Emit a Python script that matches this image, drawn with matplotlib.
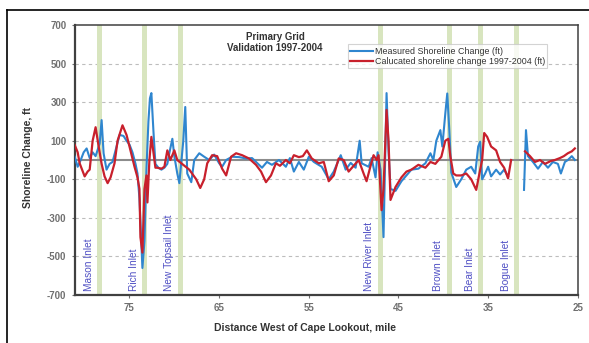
#!/usr/bin/env python3

import numpy as np
import matplotlib
matplotlib.use("Agg")
import matplotlib.pyplot as plt
from matplotlib.lines import Line2D

plt.rcParams['font.family'] = ['Liberation Sans', 'DejaVu Sans']
plt.rcParams['axes.unicode_minus'] = False

# measured shoreline change, miles west of Cape Lookout vs ft (nan = no data)
meas_mile = [81.11, 80.78, 80.44, 80.11, 79.78, 79.44, 79.11, 78.78, 78.33, 78.11,
             77.89, 77.56, 77.22, 76.89, 76.44, 76.11, 75.67, 75.33, 75.00, 74.67,
             74.33, 74.11, 73.89, 73.56, 73.33, 73.11, 72.89, 72.72, 72.56, 72.33,
             72.11, 71.78, 71.44, 71.11, 70.78, 70.56, 70.22, 70.00, 69.67, 69.44,
             69.22, 69.00, 68.78, 68.56, 68.11, 67.78, 67.22, 66.67, 66.11, 65.56,
             65.00, 64.67, 64.22, 63.56, 62.78, 62.00, 61.33, 60.56, 60.22, 59.67,
             59.11, 58.33, 57.56, 57.11, 56.67, 56.11, 55.56, 55.00, 54.44, 53.56,
             52.78, 52.22, 51.44, 50.89, 50.33, 49.78, 49.33, 49.11, 48.33, 48.00,
             47.56, 47.33, 47.00, 46.67, 46.44, 46.33, 46.11, 45.89, 45.33, 44.67,
             44.11, 43.56, 42.78, 42.00, 41.44, 41.11, 40.78, 40.33, 40.11, 39.78,
             39.56, 39.33, 39.11, 38.56, 38.00, 37.44, 36.89, 36.44, 36.11, 35.89,
             35.67, 35.33, 35.00, 34.67, 34.11, 33.67, 33.22, 32.78, 32.56, 31.00,
             30.78, 30.56, 30.00, 29.44, 28.89, 28.33, 27.78, 27.22, 26.89, 26.44,
             26.11, 25.67, 25.33]
meas_val = [17, -35, 0, 40, 60, 10, 40, 20, 85, 207,
            35, -50, -20, -10, 70, 130, 125, 100, 80, 40,
            -20, -70, -200, -560, -420, -50, 200, 320, 347, 150,
            -20, -40, -50, -40, -20, 35, 110, 20, -70, -120,
            -10, 100, 275, -70, -115, 0, 35, 17, 0, 28,
            -17, -35, 0, 17, 15, 8, 10, -25, -40, -10,
            -25, 0, -35, 10, -60, -10, -50, 17, -10, -35,
            -100, -60, 25, -50, -15, -40, 100, -17, -35, 10,
            -90, 40, -50, -400, 100, 347, 50, -150, -160, -110,
            -80, -50, -45, -17, 35, 0, 100, 155, 70, 240,
            345, 155, -65, -140, -100, -50, -35, -70, 70, 95,
            -100, -70, -35, -85, -50, -75, -50, -85, np.nan, -155,
            155, 20, -10, -45, -10, -40, -10, -20, -70, -10,
            0, 20, 0]

# calculated shoreline change 1997-2004
calc_mile = [81.11, 80.78, 80.56, 80.00, 79.67, 79.44, 79.11, 78.78, 78.44, 78.11,
             77.78, 77.44, 77.11, 76.67, 76.33, 75.78, 75.33, 75.00, 74.44, 74.11,
             73.89, 73.78, 73.56, 73.33, 73.11, 73.00, 72.78, 72.56, 72.33, 72.11,
             71.89, 71.44, 71.11, 70.78, 70.44, 70.00, 69.67, 69.22, 68.33, 67.56,
             67.11, 66.67, 66.33, 65.78, 65.22, 64.67, 64.22, 63.67, 63.11, 62.44,
             61.67, 60.89, 60.33, 59.78, 59.22, 58.67, 58.22, 57.56, 57.11, 56.67,
             56.11, 55.67, 55.22, 54.67, 53.89, 53.33, 52.78, 52.22, 51.67, 51.11,
             50.56, 50.00, 49.44, 48.89, 48.56, 48.11, 47.78, 47.44, 47.22, 46.89,
             46.67, 46.33, 46.11, 45.89, 45.33, 44.67, 44.11, 43.56, 42.78, 42.00,
             41.44, 40.89, 40.22, 39.78, 39.44, 39.22, 38.89, 38.56, 38.00, 37.44,
             36.89, 36.33, 35.89, 35.67, 35.44, 35.11, 34.67, 34.11, 33.67, 33.22,
             32.78, 32.44, 32.00, 30.89, 30.33, 29.78, 29.22, 28.67, 28.00, 27.56,
             27.00, 26.56, 26.11, 25.67, 25.33]
calc_val = [78, 40, -17, -85, -60, -50, 100, 170, 70, -20,
            -85, -120, -90, -17, 100, 180, 130, 70, -35, -90,
            -150, -400, -480, -150, -80, -220, 0, 120, 40, -40,
            -40, -45, -35, 50, 0, 50, 0, -17, -50, -100,
            -145, -100, -17, 25, 20, -45, -80, 17, 35, 25,
            8, -25, -60, -115, -80, -17, -30, 0, -17, 25,
            15, 20, 50, 8, -17, -10, -110, -80, 8, 0,
            -60, -30, 0, -70, -110, -30, 25, 0, 25, -260,
            -150, 260, 100, -207, -140, -90, -60, -50, -25, -40,
            -10, -20, 17, 100, 110, 20, -70, -80, -80, -70,
            -100, -155, -50, 0, 140, 120, 70, 50, -10, -40,
            -95, 0, np.nan, 45, 20, -10, 0, -20, -5, 0,
            10, 20, 35, 45, 60]

inlet_names = ['Mason Inlet', 'Rich Inlet', 'New Topsail Inlet', 'New River Inlet',
               'Brown Inlet', 'Bear Inlet', 'Bogue Inlet']
inlet_mile = [78.3, 73.3, 69.3, 47.0, 39.3, 35.8, 31.8]

y_ticks = [700, 500, 300, 100, -100, -300, -500, -700]
x_ticks = [75, 65, 55, 45, 35, 25]

fig = plt.figure(figsize=(5.89, 3.43), dpi=100)
ax = fig.add_axes([0.127, 0.140, 0.854, 0.787])

# inlet bands
for m in inlet_mile:
    ax.axvspan(m + 0.28, m - 0.28, color='#d8e5bf', zorder=1, lw=0)

# grid + zero line
for t in y_ticks[1:-1]:
    ax.axhline(t, color='#bdbdbd', lw=0.8, ls=(0, (3, 3)), zorder=0)
ax.axhline(0, color='#8c8c8c', lw=1.5, zorder=2)

ax.plot(meas_mile, meas_val, color='#2f86cf', lw=1.5, zorder=3,
        label='Measured Shoreline Change (ft)')
ax.plot(calc_mile, calc_val, color='#c8202c', lw=1.6, zorder=4,
        label='Calucated shoreline change 1997-2004 (ft)')

for name, m in zip(inlet_names, inlet_mile):
    ax.text(m + 1.25, -678, name, rotation=90, ha='center', va='bottom',
            fontsize=7.3, color='#4f4fc4', zorder=5)

ax.set_xlim(81.1, 25)
ax.set_ylim(-700, 700)
ax.set_xticks(x_ticks)
ax.set_yticks(y_ticks)
ax.tick_params(labelsize=7, labelcolor='#707070', color='#707070', length=2.5)
for lab in ax.get_xticklabels() + ax.get_yticklabels():
    lab.set_fontweight('bold')

for s in ax.spines.values():
    s.set_color('#404040')
    s.set_linewidth(1.1)
ax.spines['left'].set_linewidth(1.6)
ax.spines['bottom'].set_linewidth(1.6)

ax.set_xlabel('Distance West of Cape Lookout, mile', fontsize=7.5,
              fontweight='bold', color='#333333')
ax.xaxis.set_label_coords(0.457, -0.105)
ax.set_ylabel('Shoreline Change, ft', fontsize=7.5, fontweight='bold',
              color='#333333')
ax.yaxis.set_label_coords(-0.083, 0.51)

ax.text(0.398, 0.975, 'Primary Grid\nValidation 1997-2004', transform=ax.transAxes,
        ha='center', va='top', fontsize=7, fontweight='bold', color='#333333',
        linespacing=1.15)

leg = ax.legend(loc='upper left', bbox_to_anchor=(0.543, 0.928), fontsize=6.4,
                frameon=True, fancybox=False, borderaxespad=0, borderpad=0.25,
                labelspacing=0.15, handlelength=2.6, handletextpad=0.15)
leg.get_frame().set_edgecolor('#c8c8c8')
leg.get_frame().set_linewidth(0.8)
for t in leg.get_texts():
    t.set_color('#333333')

# outer frame of the picture (cropped at right / bottom)
fig.add_artist(Line2D([7 / 589, 1.0], [1 - 10 / 343, 1 - 10 / 343],
                      transform=fig.transFigure, color='black', lw=1.2))
fig.add_artist(Line2D([7 / 589, 7 / 589], [0.0, 1 - 10 / 343],
                      transform=fig.transFigure, color='black', lw=1.2))

fig.savefig('out.png', dpi=100)
